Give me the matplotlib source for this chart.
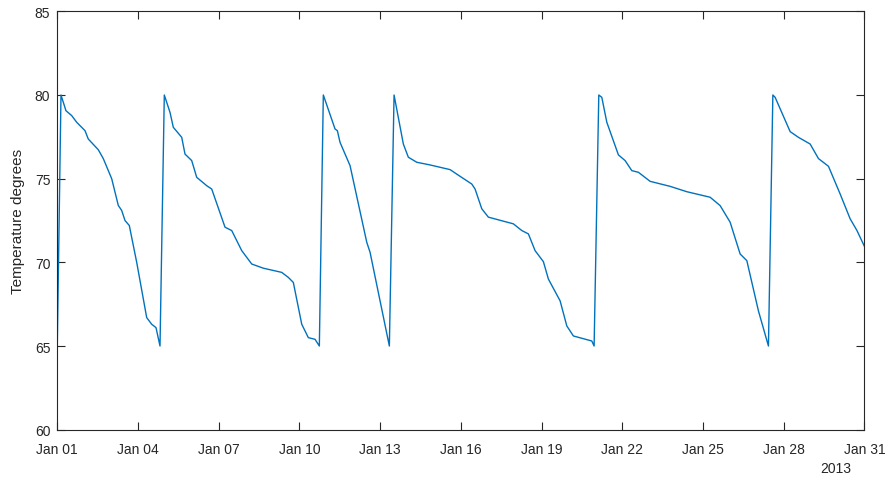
import matplotlib
matplotlib.use("Agg")
import matplotlib.pyplot as plt
import matplotlib.dates as mdates
import numpy as np
from datetime import datetime, timedelta

# Elapsed time since 2013-01-01 00:00 (days) and temperature (degrees)
days = [0.0, 0.138, 0.323, 0.535, 0.721, 1.030, 1.152, 1.524, 1.710, 2.022, 2.268, 2.394, 2.517, 2.677,
        2.952, 3.323, 3.509, 3.669, 3.818,
        3.978, 4.190, 4.312, 4.625, 4.747, 4.996, 5.182, 5.554, 5.740, 6.234, 6.483, 6.855, 7.227, 7.658,
        8.342, 8.587, 8.773, 9.086, 9.331, 9.580, 9.740,
        9.888, 10.323, 10.409, 10.509, 10.881, 11.502, 11.625, 12.342,
        12.517, 12.862, 13.048, 13.361, 13.855, 14.599, 14.970, 15.405, 15.528, 15.777, 16.022, 16.952,
        17.264, 17.509, 17.758, 18.067, 18.253, 18.688, 18.937, 19.182, 19.866, 19.952,
        20.126, 20.238, 20.424, 20.855, 21.104, 21.353, 21.599, 22.034, 22.777, 23.398, 24.264, 24.636,
        25.007, 25.379, 25.628, 26.059, 26.431,
        26.595, 26.680, 27.238, 27.546, 27.981, 28.290, 28.662, 29.097, 29.468, 29.721, 30.0]
temps = [65.0, 80.0, 79.06, 78.77, 78.37, 77.87, 77.37, 76.73, 76.2, 75.0, 73.4, 73.1, 72.5, 72.2,
         70.0, 66.7, 66.3, 66.1, 65.0,
         80.0, 78.96, 78.07, 77.47, 76.47, 76.08, 75.08, 74.58, 74.38, 72.1, 71.9, 70.7, 69.9, 69.65,
         69.4, 69.1, 68.8, 66.3, 65.5, 65.4, 65.0,
         80.0, 77.97, 77.87, 77.17, 75.78, 71.2, 70.6, 65.0,
         80.0, 77.07, 76.28, 75.98, 75.82, 75.54, 75.14, 74.68, 74.38, 73.2, 72.7, 72.3,
         71.9, 71.7, 70.7, 70.04, 69.0, 67.7, 66.2, 65.6, 65.3, 65.0,
         80.0, 79.86, 78.37, 76.42, 76.08, 75.48, 75.38, 74.84, 74.54, 74.22, 73.89, 73.39,
         72.4, 70.5, 70.1, 67.1, 65.0,
         80.0, 79.86, 77.81, 77.47, 77.07, 76.2, 75.74, 74.08, 72.6, 71.9, 70.95]

ylabel = "Temperature degrees"
year_label = "2013"

plt.rcParams['font.family'] = ['Liberation Sans', 'DejaVu Sans']
plt.rcParams['font.size'] = 10
txt = '#262626'

start = datetime(2013, 1, 1)
t = [start + timedelta(days=d) for d in days]

fig = plt.figure(figsize=(8.88, 4.81), dpi=100)
ax = fig.add_axes([0.0645, 0.1046, 0.909, 0.8698])
ax.plot(t, temps, color='#0072BD', lw=1.0)

ax.set_xlim(start, start + timedelta(days=30))
ax.set_ylim(60, 85)
ax.set_yticks(np.arange(60, 86, 5))
ax.xaxis.set_major_locator(mdates.DayLocator(bymonthday=range(1, 32, 3)))
ax.xaxis.set_major_formatter(mdates.DateFormatter('%b %d'))

ax.tick_params(direction='in', length=6, width=0.8, colors=txt, labelsize=10,
               top=True, right=True)
ax.tick_params(axis='x', pad=9)
ax.tick_params(axis='y', pad=5)
for s in ax.spines.values():
    s.set_color(txt)
    s.set_linewidth(0.8)

ax.set_ylabel(ylabel, color=txt, fontsize=11, labelpad=7)
fig.text(851 / 888, 1 - 469 / 481, year_label, ha='right', va='center', color=txt, fontsize=10)

fig.savefig("out.png", dpi=100)
